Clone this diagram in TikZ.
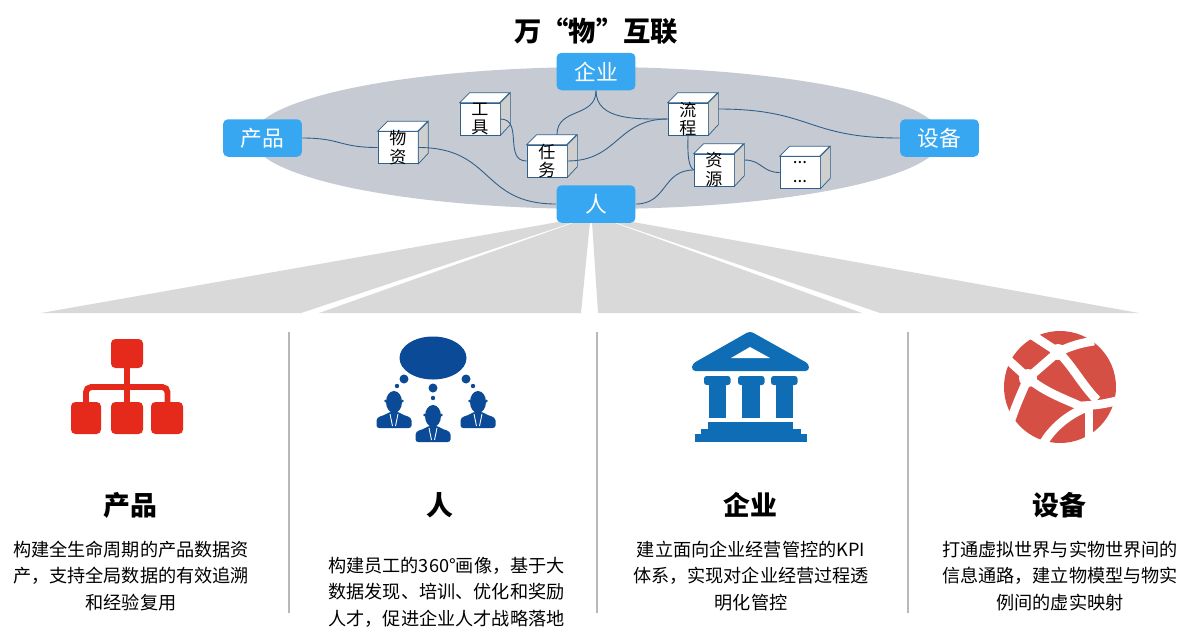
\documentclass[tikz,border=0pt]{standalone}
\usepackage{fontspec}
\setmainfont{Noto Sans CJK SC}
\definecolor{boxblue}{HTML}{38A7F2}
\definecolor{ovalgray}{HTML}{C5CAD3}
\definecolor{fangray}{HTML}{D9D9D9}
\definecolor{wireblue}{HTML}{2F5F8A}
\definecolor{sidegray}{HTML}{CFCFCF}
\definecolor{iconred}{HTML}{E52A1B}
\definecolor{navyblue}{HTML}{0B4A96}
\definecolor{bankblue}{HTML}{0F6DB5}
\definecolor{globered}{HTML}{D64F44}
\tikzset{
  bluebox/.style={fill=boxblue, text=white, rounded corners=0.1cm, minimum width=1.58cm, minimum height=0.75cm, inner sep=0pt, font=\fontsize{12.4}{14}\selectfont},
  cubeface/.style={draw=wireblue, fill=white, line width=0.4pt, minimum width=0.8cm, minimum height=0.64cm, inner sep=0pt, align=center},
  wire/.style={draw=wireblue, line width=0.5pt},
  heading/.style={font=\fontsize{15.3}{18}\selectfont\bfseries},
  bodytext/.style={align=center, font=\fontsize{10.33}{15}\selectfont},
  divider/.style={draw=fangray!85!black, line width=0.6pt},
  globeline/.style={draw=white, line width=5pt}
}
% one cube: name, centre of the front face, text
\newcommand{\cubenode}[4]{
  \node[cubeface] (#1) at (#2,#3) {};
  \draw[wireblue, fill=white, line width=0.4pt] (#1.north west) -- ++(10,-10) -- ++(40,0) -- ++(-10,10) -- cycle;
  \draw[wireblue, fill=sidegray, line width=0.4pt] (#1.north east) -- ++(10,-10) -- ++(0,32) -- (#1.south east) -- cycle;
  \coordinate (#1-top) at ([xshift=0.2cm,yshift=0.2cm]#1.north);
  \coordinate (#1-side) at ([xshift=0.2cm,yshift=0.2cm]#1.east);
  \node[align=center, inner sep=0pt, font=\fontsize{9.7}{10.8}\selectfont] at (#1) {#4};
}
\newcommand{\personicon}[2]{
  \begin{scope}[shift={(#1,#2)}]
    \fill[navyblue] (0,0) ellipse [x radius=8, y radius=11];
    \fill[navyblue] (-8.5,-1) circle (1.3) (8.5,-1) circle (1.3);
    \fill[navyblue, rounded corners=1.5pt] (-17.5,26) -- (-17.5,21) .. controls (-17.5,14) and (-10,14) .. (-5,10) -- (5,10) .. controls (10,14) and (17.5,14) .. (17.5,21) -- (17.5,26) -- cycle;
    \draw[white, line width=0.5pt] (-4,12) -- (-1.5,24) (4,12) -- (1.5,24);
  \end{scope}
}
\begin{document}
\begin{tikzpicture}[x=0.02cm, y=-0.02cm]
  \useasboundingbox (0,0) rectangle (1191,640);
  \node[font=\fontsize{15.55}{18}\selectfont\bfseries] (title) at (596,31) {万“物”互联};

  % upper oval
  \fill[ovalgray] (597,138) ellipse [x radius=345, y radius=71];

  % fan
  \fill[fangray] (41,313) -- (301,313) -- (574,222) -- (558,222) -- cycle;
  \fill[fangray] (319,313) -- (581,313) -- (590,222) -- (576,222) -- cycle;
  \fill[fangray] (598,313) -- (862,313) -- (612,222) -- (592,222) -- cycle;
  \fill[fangray] (880,313) -- (1139,313) -- (633,222) -- (614,222) -- cycle;

  \node[bluebox] (product) at (262.5,138) {产品};
  \node[bluebox] (enterprise) at (596,71.5) {企业};
  \node[bluebox] (people) at (596,204) {人};
  \node[bluebox] (device) at (939.5,138) {设备};

  \cubenode{material}{398}{147.5}{物\\资}
  \cubenode{tool}{480}{119}{工\\具}
  \cubenode{task}{547}{161}{任\\务}
  \cubenode{flow}{688}{119}{流\\程}
  \cubenode{resource}{714}{170}{资\\源}
  \cubenode{others}{800}{172.5}{...\\...}

  \draw[wire] (product.east) to[out=0,in=180,looseness=1.3] (material.west);
  \draw[wire] (material.east) to[out=0,in=180,looseness=1.3] (people.west);
  \draw[wire] (tool.east) to[out=0,in=180,looseness=1.2] (task.west);
  \draw[wire] (enterprise.south) to[out=-90,in=90,looseness=1.2] (task-top);
  \draw[wire] (enterprise.south) to[out=-90,in=180] (flow.west);
  \draw[wire] (task.east) to[out=0,in=180,looseness=1.2] (flow.west);
  \draw[wire] (flow-side) to[out=0,in=180,looseness=1.3] (device.west);
  \draw[wire] (flow.south) to[out=-90,in=150,looseness=0.6] (resource.west);
  \draw[wire] (people.east) to[out=0,in=180,looseness=1.2] (resource.west);
  \draw[wire] (resource-side) to[out=0,in=180,looseness=1.2] (others.west);

  % dividers
  \foreach \x in {289,597,908}
    \draw[divider] (\x,332) -- (\x,613);

  % red tree icon
  \fill[iconred, rounded corners=2.5pt] (111,339) rectangle (143,368);
  \foreach \x/\w in {71/30,111/32,151/32}
    \fill[iconred, rounded corners=2.5pt] (\x,402) rectangle ++(\w,32);
  \fill[iconred] (123.5,368) rectangle (129.5,402);
  \draw[iconred, line width=3.4pt, rounded corners=3pt] (86,402) -- (86,387) -- (167.5,387) -- (167.5,402);

  % people icon
  \fill[navyblue] (433,358) ellipse [x radius=33.5, y radius=21.5];
  \foreach \x/\y/\r in {404/379/4.5,397/386/2.2,433/388/4.5,433/398/2.2,466/379/4.5,473/386/2.2}
    \fill[navyblue] (\x,\y) circle (\r);
  \personicon{394}{402}
  \personicon{433}{416}
  \personicon{478}{402}

  % bank icon
  \fill[bankblue, rounded corners=2pt] (750,331) -- (692,364) -- (692,371) -- (809,371) -- (809,364) -- cycle;
  \fill[white] (750,347) -- (731,358) -- (770,358) -- cycle;
  \foreach \x in {704,738,771}
    \fill[bankblue, rounded corners=1.5pt] (\x,376) rectangle ++(26.5,9);
  \foreach \x in {708.5,742,775.5}
    \fill[bankblue] (\x,384) rectangle ++(17.5,34);
  \fill[bankblue] (708,422) rectangle (793,429);
  \fill[bankblue] (701,429) rectangle (801,434);
  \fill[bankblue] (695,434) rectangle (807,442);

  % globe icon
  \fill[globered] (1060,387) circle (56);
  \draw[globeline] (1032,335) -- (1058,352);
  \draw[globeline] (1058,352) to[bend left=8] (1094,341);
  \draw[globeline] (1058,352) .. controls (1072,365) and (1082,385) .. (1097,400);
  \draw[globeline] (1028,378) -- (1058,352);
  \draw[globeline] (1006,358) -- (1028,378);
  \draw[globeline] (1028,378) .. controls (1022,392) and (1016,405) .. (1011,420);
  \draw[globeline] (1028,378) .. controls (1045,392) and (1062,398) .. (1080,406) to[bend right=6] (1120,400);
  \draw[globeline] (1043,444) .. controls (1052,428) and (1068,415) .. (1085,408);
  \draw[globeline] (1089,408) -- (1089,438);
  \fill[white] (1028,378) circle (9);
  \fill[white] (1058,352) circle (8);

  % four columns of text
  \node[heading] (head1) at (130,505) {产品};
  \node[heading] (head2) at (440,505) {人};
  \node[heading] (head3) at (750,505) {企业};
  \node[heading] (head4) at (1059,505) {设备};
  \node[bodytext] (text1) at (131,576) {构建全生命周期的产品数据资\\产，支持全局数据的有效追溯\\和经验复用};
  \node[bodytext] (text2) at (446.5,592) {构建员工的360°画像，基于大\\数据发现、培训、优化和奖励\\人才，促进企业人才战略落地};
  \node[bodytext] (text3) at (751,576) {建立面向企业经营管控的KPI\\体系，实现对企业经营过程透\\明化管控};
  \node[bodytext] (text4) at (1060,576) {打通虚拟世界与实物世界间的\\信息通路，建立物模型与物实\\例间的虚实映射};
\end{tikzpicture}
\end{document}
